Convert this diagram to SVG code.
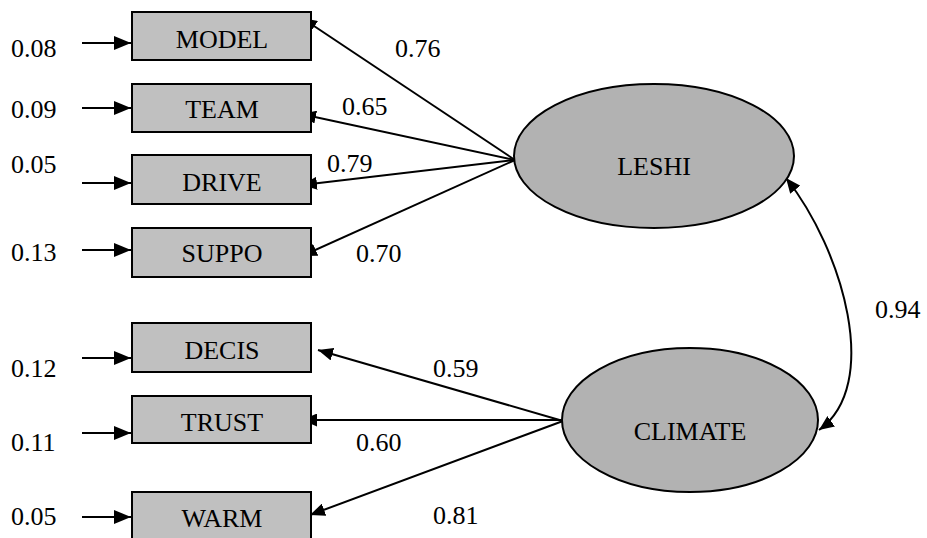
<svg xmlns="http://www.w3.org/2000/svg" width="927" height="538" viewBox="0 0 927 538">
  <defs>
    <style>
      text { font-family: 'Liberation Serif', 'Times New Roman', serif; font-size: 26px; fill: #000; }
      .box { fill: #c0c0c0; stroke: #000; stroke-width: 2; }
      .lat { fill: #b2b2b2; stroke: #000; stroke-width: 2; }
      .lbl { text-anchor: middle; }
      .ln { stroke: #000; stroke-width: 2; fill: none; }
      .load { marker-end: url(#head); }
      .err { marker-end: url(#headL); }
      .cov { marker-start: url(#head); marker-end: url(#head); }
    </style>
    <marker id="head" markerUnits="userSpaceOnUse" markerWidth="15" markerHeight="13" refX="15" refY="6.5" orient="auto-start-reverse">
      <path d="M0,0 L15,6.5 L0,13 z" fill="#000"/>
    </marker>
    <marker id="headL" markerUnits="userSpaceOnUse" markerWidth="17" markerHeight="14" refX="17" refY="7" orient="auto">
      <path d="M0,0 L17,7 L0,14 z" fill="#000"/>
    </marker>
  </defs>

  <!-- error terms -->
  <g id="errors">
    <text x="11" y="57">0.08</text>
    <text x="11" y="118">0.09</text>
    <text x="11" y="173">0.05</text>
    <text x="11" y="261">0.13</text>
    <text x="11" y="377">0.12</text>
    <text x="11" y="451">0.11</text>
    <text x="11" y="525">0.05</text>
  </g>

  <!-- connectors -->
  <g id="connectors">
    <line class="ln err" x1="82" y1="43" x2="131" y2="43"/>
    <line class="ln err" x1="82" y1="108" x2="131" y2="108"/>
    <line class="ln err" x1="82" y1="183" x2="131" y2="183"/>
    <line class="ln err" x1="82" y1="250" x2="131" y2="250"/>
    <line class="ln err" x1="82" y1="358" x2="131" y2="358"/>
    <line class="ln err" x1="82" y1="433" x2="131" y2="433"/>
    <line class="ln err" x1="82" y1="517" x2="131" y2="517"/>

    <line class="ln load" x1="515" y1="160" x2="302" y2="18"/>
    <line class="ln load" x1="515" y1="160" x2="301" y2="114"/>
    <line class="ln load" x1="515" y1="160" x2="302" y2="185"/>
    <line class="ln load" x1="515" y1="160" x2="302" y2="256"/>

    <line class="ln load" x1="563" y1="421" x2="318" y2="350"/>
    <line class="ln load" x1="563" y1="420" x2="302" y2="420"/>
    <line class="ln load" x1="563" y1="421" x2="310" y2="515"/>

    <path class="ln cov" d="M786,178 C843,250 882,385 819,430"/>
  </g>

  <!-- path coefficients -->
  <g id="coefficients">
    <text x="395" y="57">0.76</text>
    <text x="342" y="115">0.65</text>
    <text x="327" y="172">0.79</text>
    <text x="356" y="262">0.70</text>
    <text x="433" y="377">0.59</text>
    <text x="356" y="451">0.60</text>
    <text x="433" y="524">0.81</text>
    <text x="875" y="318">0.94</text>
  </g>

  <!-- observed indicators -->
  <g id="MODEL"><rect class="box" x="132" y="12" width="179" height="48"/><text class="lbl" x="222" y="48">MODEL</text></g>
  <g id="TEAM"><rect class="box" x="132" y="84" width="179" height="48"/><text class="lbl" x="222" y="118">TEAM</text></g>
  <g id="DRIVE"><rect class="box" x="132" y="155" width="179" height="49"/><text class="lbl" x="222" y="191">DRIVE</text></g>
  <g id="SUPPO"><rect class="box" x="132" y="228" width="179" height="49"/><text class="lbl" x="222" y="262">SUPPO</text></g>
  <g id="DECIS"><rect class="box" x="132" y="323" width="179" height="49"/><text class="lbl" x="222" y="359">DECIS</text></g>
  <g id="TRUST"><rect class="box" x="132" y="396" width="179" height="47"/><text class="lbl" x="222" y="431">TRUST</text></g>
  <g id="WARM"><rect class="box" x="132" y="492" width="179" height="50"/><text class="lbl" x="222" y="527">WARM</text></g>

  <!-- latent factors -->
  <g id="LESHI"><ellipse class="lat" cx="654" cy="156" rx="140" ry="72"/><text class="lbl" x="654" y="175">LESHI</text></g>
  <g id="CLIMATE"><ellipse class="lat" cx="690" cy="420" rx="128" ry="72"/><text class="lbl" x="690" y="440">CLIMATE</text></g>
</svg>
